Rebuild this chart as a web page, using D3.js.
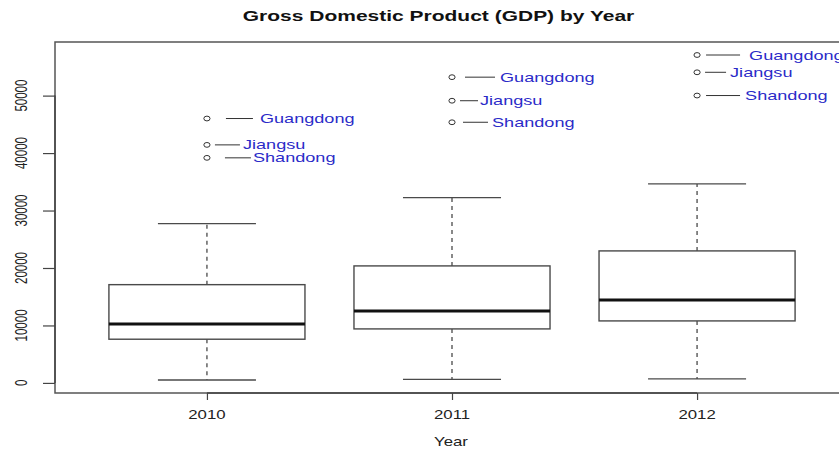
<!DOCTYPE html>
<html>
<head>
<meta charset="utf-8">
<script src="https://cdn.jsdelivr.net/npm/d3@7/dist/d3.min.js"></script>
<style>
  html, body { margin: 0; padding: 0; background: #fff; }
  svg { display: block; }
  text { font-family: "Liberation Sans", Arial, Helvetica, sans-serif; }
</style>
</head>
<body>
<script>
// Provincial GDP distribution per year (100 million yuan)
const years = ["2010", "2011", "2012"];
const lowerWhisker = [507, 606, 701];
const q1 = [7605, 9398, 10790];
const median = [10268, 12530, 14445];
const q3 = [17100, 20362, 22973];
const upperWhisker = [27722, 32249, 34633];

// Outlying provinces, one value list per year
const outlierProvinces = ["Guangdong", "Jiangsu", "Shandong"];
const outliers2010 = [46013, 41425, 39170];
const outliers2011 = [53210, 49110, 45362];
const outliers2012 = [57068, 54058, 50013];
const outlierValues = [outliers2010, outliers2011, outliers2012];

const yTicks = [0, 10000, 20000, 30000, 40000, 50000];

// Leader line start/end and label start, in px right of each point
const leaderLayout = [
  [[19, 46, 53], [8, 33, 36], [18, 44, 46]],
  [[13, 43, 48], [8, 26, 28], [11, 36, 40]],
  [[9, 43, 52], [8, 29, 33], [9, 43, 48]]
];

const W = 839, H = 450;
const plot = { left: 55, right: 849, top: 42, bottom: 393 };
const sx = 1.4; // horizontal text stretch

const svg = d3.select("body").append("svg")
  .attr("width", W).attr("height", H);

// x: group index 1..n with R-style 4% padding around [0.5, n+0.5]
const n = years.length;
const xr = [0.5, n + 0.5];
const xpad = (xr[1] - xr[0]) * 0.04;
const x = d3.scaleLinear().domain([xr[0] - xpad, xr[1] + xpad]).range([plot.left, plot.right]);

const allVals = lowerWhisker.concat(upperWhisker, outlierValues.flat());
const ymin = d3.min(allVals), ymax = d3.max(allVals);
const ypad = (ymax - ymin) * 0.04;
const y = d3.scaleLinear().domain([ymin - ypad, ymax + ypad]).range([plot.bottom, plot.top]);

const boxW = (x(2) - x(1)) * 0.8;
const capW = boxW * 0.5;
const lineCol = "#4a4a4a";

function stretchedText(g, tx, ty, str, opts) {
  return g.append("text")
    .attr("transform", `translate(${tx},${ty}) scale(${opts.sx || sx},1)`)
    .attr("text-anchor", opts.anchor || "start")
    .attr("font-size", opts.size)
    .attr("font-weight", opts.weight || "normal")
    .attr("fill", opts.fill || "#222")
    .text(str);
}

// boxes
const boxes = svg.append("g");
years.forEach((yr, i) => {
  const cx = x(i + 1);
  const g = boxes.append("g");
  // whiskers
  g.append("line").attr("x1", cx).attr("x2", cx)
    .attr("y1", y(q3[i])).attr("y2", y(upperWhisker[i]))
    .attr("stroke", lineCol).attr("stroke-width", 1.3).attr("stroke-dasharray", "4,4");
  g.append("line").attr("x1", cx).attr("x2", cx)
    .attr("y1", y(q1[i])).attr("y2", y(lowerWhisker[i]))
    .attr("stroke", lineCol).attr("stroke-width", 1.3).attr("stroke-dasharray", "4,4");
  // caps
  [upperWhisker[i], lowerWhisker[i]].forEach(v => {
    g.append("line").attr("x1", cx - capW / 2).attr("x2", cx + capW / 2)
      .attr("y1", y(v)).attr("y2", y(v))
      .attr("stroke", lineCol).attr("stroke-width", 1.3);
  });
  // box
  g.append("rect")
    .attr("x", cx - boxW / 2).attr("width", boxW)
    .attr("y", y(q3[i])).attr("height", y(q1[i]) - y(q3[i]))
    .attr("fill", "white").attr("stroke", lineCol).attr("stroke-width", 1.4);
  // median
  g.append("line").attr("x1", cx - boxW / 2).attr("x2", cx + boxW / 2)
    .attr("y1", y(median[i])).attr("y2", y(median[i]))
    .attr("stroke", "#111").attr("stroke-width", 3);

  // outliers with labels
  outlierValues[i].forEach((v, j) => {
    const py = y(v);
    g.append("ellipse").attr("cx", cx).attr("cy", py)
      .attr("rx", 3.1).attr("ry", 2.4)
      .attr("fill", "none").attr("stroke", "#333").attr("stroke-width", 1);
    const [l0, l1, t0] = leaderLayout[i][j];
    g.append("line").attr("x1", cx + l0).attr("x2", cx + l1)
      .attr("y1", py).attr("y2", py)
      .attr("stroke", "#333").attr("stroke-width", 1);
    stretchedText(g, cx + t0, py + 4.5, outlierProvinces[j], { size: 12.5, fill: "#2b2bc8", sx: 1.45 });
  });
});

// frame
svg.append("rect")
  .attr("x", plot.left).attr("y", plot.top)
  .attr("width", plot.right - plot.left).attr("height", plot.bottom - plot.top)
  .attr("fill", "none").attr("stroke", "#555").attr("stroke-width", 1.5);

// y axis
const yAxis = d3.axisLeft(y).tickValues(yTicks).tickSize(12).tickFormat("");
const yg = svg.append("g").attr("transform", `translate(${plot.left},0)`).call(yAxis);
yg.select(".domain").attr("d", `M0,${y(yTicks[0])}V${y(yTicks[yTicks.length - 1])}`)
  .attr("stroke", "#444").attr("stroke-width", 1.5);
yg.selectAll(".tick line").attr("stroke", "#444").attr("stroke-width", 1.2);
yTicks.forEach(t => {
  svg.append("text")
    .attr("transform", `translate(26.5,${y(t)}) scale(1.4,1) rotate(-90)`)
    .attr("text-anchor", "middle")
    .attr("font-size", 11.5)
    .attr("fill", "#222")
    .text(d3.format("d")(t));
});

// x axis
const xAxis = d3.axisBottom(x).tickValues(d3.range(1, n + 1)).tickSize(7).tickFormat("");
const xg = svg.append("g").attr("transform", `translate(0,${plot.bottom})`).call(xAxis);
xg.select(".domain").attr("d", `M${x(1)},0H${x(n)}`).attr("stroke", "#444").attr("stroke-width", 1.5);
xg.selectAll(".tick line").attr("stroke", "#444").attr("stroke-width", 1.2);
years.forEach((yr, i) => {
  stretchedText(svg, x(i + 1), 419, yr, { size: 12, anchor: "middle" });
});

// axis title and chart title
stretchedText(svg, 451, 446, "Year", { size: 12, anchor: "middle" });
stretchedText(svg, 438.5, 21, "Gross Domestic Product (GDP) by Year", { size: 15, anchor: "middle", weight: "bold", fill: "#111" });
</script>
</body>
</html>
